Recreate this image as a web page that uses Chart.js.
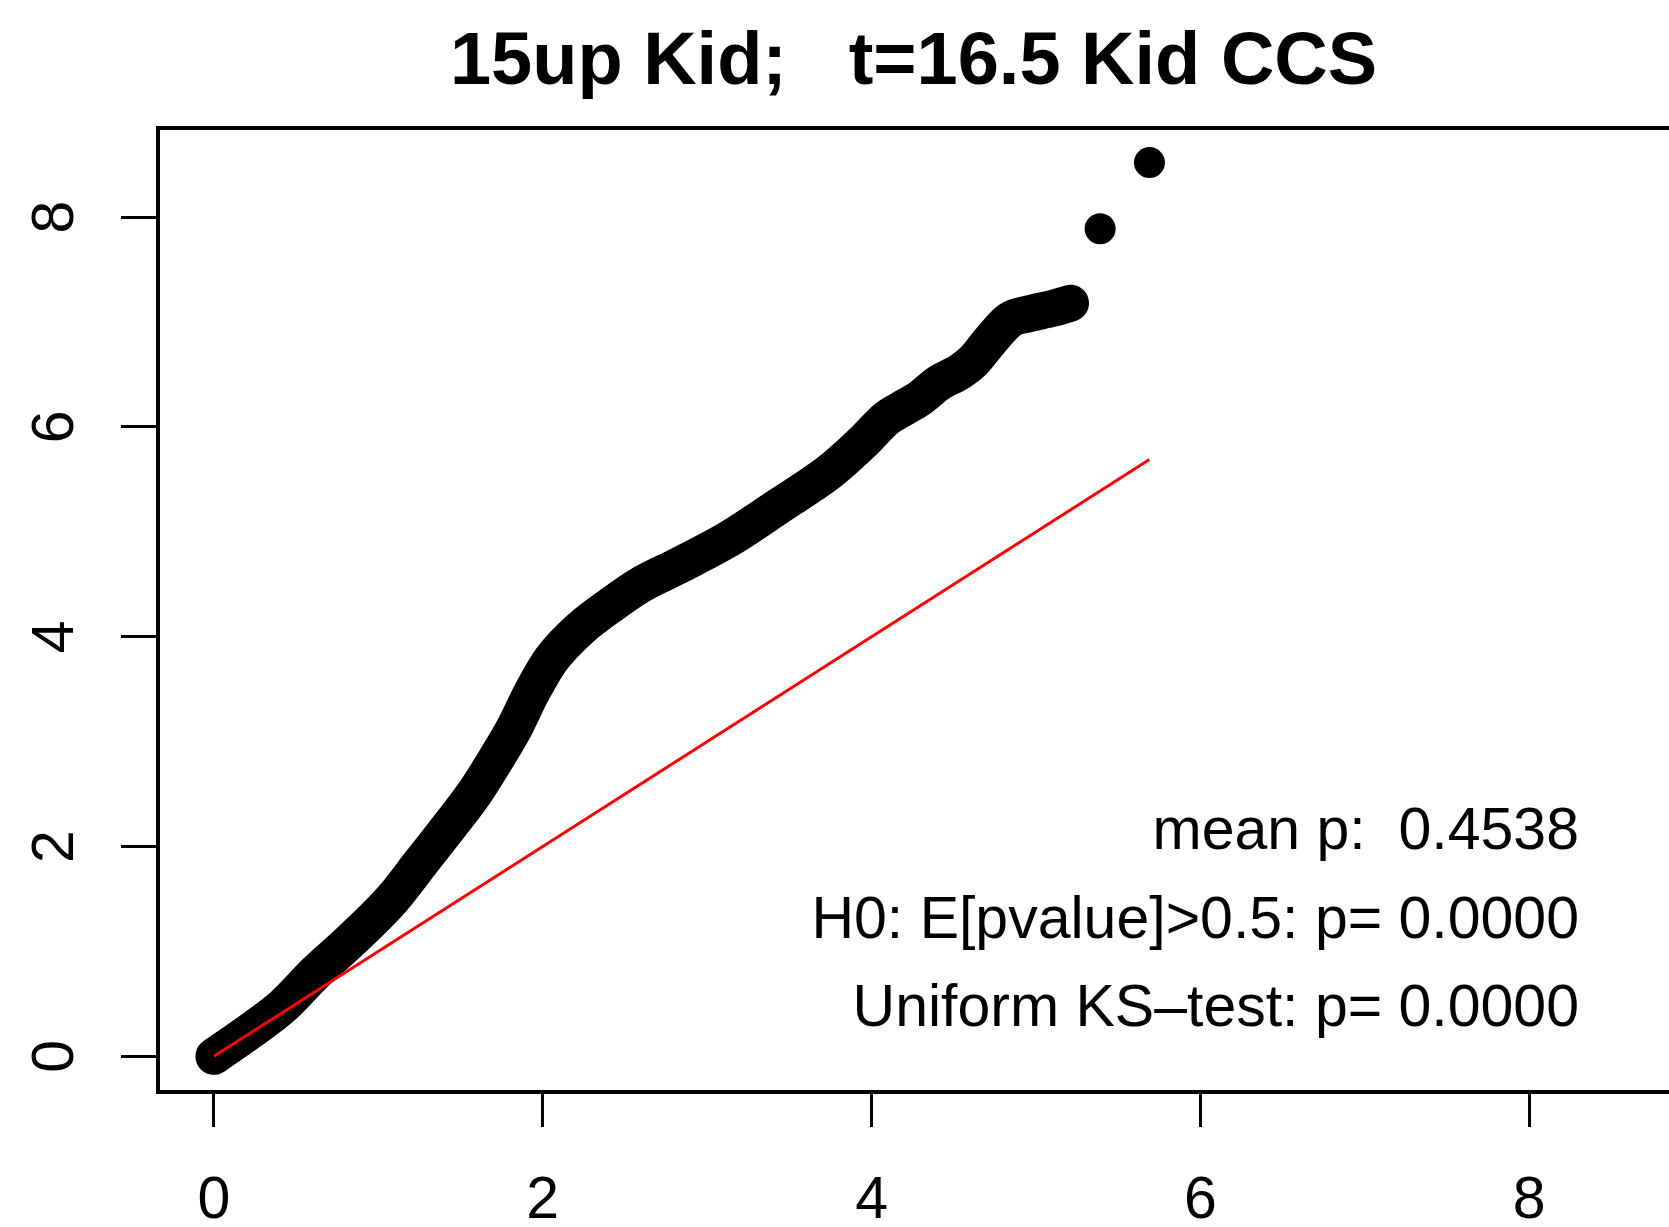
<!DOCTYPE html>
<html>
<head>
<meta charset="utf-8">
<script src="https://cdn.jsdelivr.net/npm/chart.js@4.4.1/dist/chart.umd.min.js"></script>
<style>
html,body{margin:0;padding:0;background:#fff;overflow:hidden;}
canvas{display:block;}
</style>
</head>
<body>
<canvas id="c" width="1669" height="1227"></canvas>
<script>
// ---- data ----
const chartTitle = '15up Kid;   t=16.5 Kid CCS';
// expected -log10(p) (x) and observed -log10(p) (y) along the dense band
const expectedBand = [0.00, 0.22, 0.42, 0.62, 0.83, 1.085, 1.26, 1.42, 1.58, 1.71, 1.83, 1.93, 2.05, 2.23, 2.43, 2.59, 2.83, 3.14, 3.44, 3.75, 3.95, 4.09, 4.17, 4.29, 4.41, 4.54, 4.62, 4.72, 4.84, 4.96, 5.10, 5.21];
const observedBand = [0.00, 0.24, 0.48, 0.80, 1.10, 1.50, 1.85, 2.17, 2.50, 2.82, 3.14, 3.46, 3.78, 4.08, 4.32, 4.49, 4.68, 4.94, 5.25, 5.58, 5.86, 6.08, 6.16, 6.27, 6.42, 6.53, 6.63, 6.82, 7.02, 7.08, 7.13, 7.18];
// the two isolated top points
const expectedTail = [5.39, 5.69];
const observedTail = [7.89, 8.52];
// reference line y = x
const refLineX = [0, 5.69];
const refLineY = [0, 5.69];
const xTicks = [0, 2, 4, 6, 8];
const yTicks = [0, 2, 4, 6, 8];
const axisMin = -0.34;
const axisMax = 8.85;
const statLines = ['mean p:  0.4538', 'H0: E[pvalue]>0.5: p= 0.0000', 'Uniform KS\u2013test: p= 0.0000'];

const FONT = '"Liberation Sans", Arial, Helvetica, sans-serif';
const toPts = (xs, ys) => xs.map((x, i) => ({x: x, y: ys[i]}));

const frameBox = {
  id: 'frameBox',
  afterDatasetsDraw(chart) {
    const {ctx, chartArea: a} = chart;
    ctx.save();
    ctx.strokeStyle = '#000';
    ctx.lineWidth = 4;
    ctx.lineJoin = 'miter';
    ctx.beginPath();
    ctx.moveTo(a.right + 4, a.top);
    ctx.lineTo(a.left, a.top);
    ctx.lineTo(a.left, a.bottom);
    ctx.lineTo(a.right + 4, a.bottom);
    ctx.stroke();
    ctx.restore();
  }
};

const statsText = {
  id: 'statsText',
  afterDraw(chart) {
    const {ctx, chartArea: a} = chart;
    ctx.save();
    ctx.font = '59px ' + FONT;
    ctx.fillStyle = '#000';
    ctx.textAlign = 'right';
    ctx.textBaseline = 'alphabetic';
    const xr = a.right - 90;
    const n = statLines.length;
    statLines.forEach((t, i) => {
      ctx.fillText(t, xr, a.bottom - 66 - (n - 1 - i) * 88.3);
    });
    ctx.restore();
  }
};

new Chart(document.getElementById('c'), {
  type: 'scatter',
  data: {
    datasets: [
      {
        label: 'y = x',
        data: toPts(refLineX, refLineY),
        showLine: true,
        borderColor: '#ff0000',
        borderWidth: 3,
        pointRadius: 0,
        order: 0,
        clip: false
      },
      {
        label: 'QQ band',
        data: toPts(expectedBand, observedBand),
        showLine: true,
        borderColor: '#000',
        borderWidth: 37,
        borderCapStyle: 'round',
        borderJoinStyle: 'round',
        cubicInterpolationMode: 'monotone',
        pointRadius: 15.5,
        pointBorderWidth: 0,
        pointBackgroundColor: '#000',
        order: 1,
        clip: false
      },
      {
        label: 'QQ tail',
        data: toPts(expectedTail, observedTail),
        showLine: false,
        pointRadius: 15.5,
        pointBorderWidth: 0,
        pointBackgroundColor: '#000',
        order: 1,
        clip: false
      }
    ]
  },
  options: {
    responsive: false,
    devicePixelRatio: 1,
    animation: false,
    events: [],
    layout: {padding: 0, autoPadding: false},
    plugins: {
      legend: {display: false},
      tooltip: {enabled: false},
      title: {
        display: true,
        text: chartTitle,
        fullSize: false,
        color: '#000',
        font: {family: FONT, size: 74, weight: 'bold', lineHeight: 1.2},
        padding: {top: 19, bottom: 20.2}
      }
    },
    scales: {
      x: {
        type: 'linear',
        min: axisMin,
        max: axisMax,
        afterBuildTicks: s => { s.ticks = xTicks.map(v => ({value: v})); },
        afterFit: s => { s.height = 135; s.paddingLeft = 0; s.paddingRight = 0; },
        grid: {drawOnChartArea: false, drawTicks: true, tickLength: 35, color: '#000', lineWidth: 3},
        border: {display: false},
        ticks: {color: '#000', font: {family: FONT, size: 59}, padding: 39, maxRotation: 0, minRotation: 0, autoSkip: false}
      },
      y: {
        type: 'linear',
        min: axisMin,
        max: axisMax,
        afterBuildTicks: s => { s.ticks = yTicks.map(v => ({value: v})); },
        afterFit: s => { s.width = 158; s.paddingTop = 0; s.paddingBottom = 0; },
        grid: {drawOnChartArea: false, drawTicks: true, tickLength: 37, color: '#000', lineWidth: 3},
        border: {display: false},
        ticks: {color: '#000', font: {family: FONT, size: 59}, padding: 48, minRotation: 90, maxRotation: 90, crossAlign: 'center', autoSkip: false}
      }
    }
  },
  plugins: [frameBox, statsText]
});
</script>
</body>
</html>
